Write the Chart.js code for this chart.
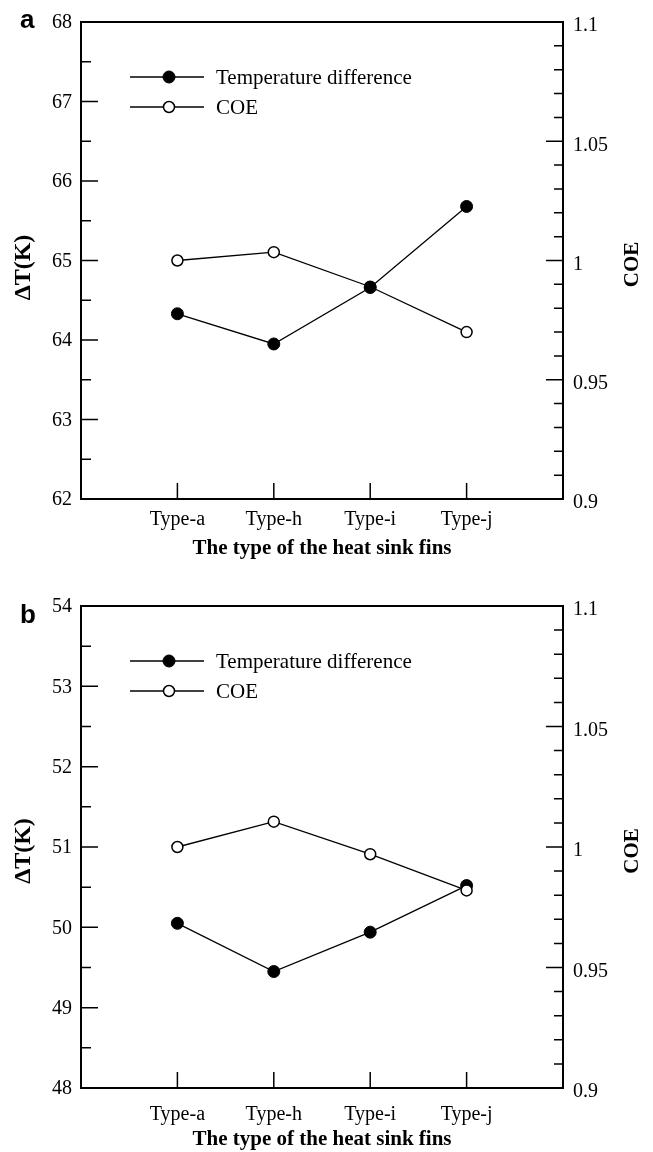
<!DOCTYPE html>
<html>
<head>
<meta charset="utf-8">
<script src="https://cdn.jsdelivr.net/npm/chart.js@4"></script>
<style>
  body { margin: 0; background: #fff; }
  canvas { display: block; }
</style>
</head>
<body>
<canvas id="chartA" width="653" height="576"></canvas>
<canvas id="chartB" width="653" height="576"></canvas>
<script>
const categories = ['Type-a', 'Type-h', 'Type-i', 'Type-j'];
const tempA = [64.33, 63.95, 64.66, 65.68];
const coeA = [1.0, 1.0035, 0.989, 0.97];
const tempB = [50.05, 49.45, 49.94, 50.52];
const coeB = [1.0, 1.0105, 0.997, 0.982];
const legendLabels = ['Temperature difference', 'COE'];

const serif = '"Liberation Serif", "Times New Roman", serif';

const points = vals => vals.map((v, i) => ({ x: i + 1, y: v }));

// frame, inward ticks, legend, y axis titles, panel letter
const decor = {
    id: 'decor',
    afterDraw(chart, args, opts) {
        const { ctx, chartArea: a, scales } = chart;
        ctx.save();
        ctx.strokeStyle = '#000';
        ctx.fillStyle = '#000';
        ctx.lineWidth = 2;
        ctx.strokeRect(a.left, a.top, a.right - a.left, a.bottom - a.top);

        ctx.lineWidth = 1.5;
        ctx.beginPath();
        scales.y.ticks.forEach((t, i) => {
            const py = scales.y.getPixelForTick(i);
            const len = t.label !== '' ? 17 : 10;
            ctx.moveTo(a.left, py);
            ctx.lineTo(a.left + len, py);
        });
        scales.y2.ticks.forEach((t, i) => {
            const py = scales.y2.getPixelForTick(i);
            const len = t.label !== '' ? 17 : 9;
            ctx.moveTo(a.right, py);
            ctx.lineTo(a.right - len, py);
        });
        scales.x.ticks.forEach((t, i) => {
            if (t.label === '') return;
            const px = scales.x.getPixelForTick(i);
            ctx.moveTo(px, a.bottom);
            ctx.lineTo(px, a.bottom - 16);
        });
        ctx.stroke();

        // legend
        chart.data.datasets.forEach((ds, i) => {
            const y = a.top + 55 + i * 30;
            ctx.lineWidth = 1.3;
            ctx.beginPath();
            ctx.moveTo(a.left + 49, y);
            ctx.lineTo(a.left + 123, y);
            ctx.stroke();
            ctx.beginPath();
            ctx.arc(a.left + 88, y, ds.pointRadius, 0, Math.PI * 2);
            ctx.fillStyle = ds.pointBackgroundColor;
            ctx.fill();
            ctx.lineWidth = ds.pointBorderWidth;
            ctx.stroke();
            ctx.fillStyle = '#000';
            ctx.font = '21px ' + serif;
            ctx.textAlign = 'left';
            ctx.textBaseline = 'middle';
            ctx.fillText(ds.label, a.left + 135, y + 1);
        });

        // y axis titles, both read bottom to top
        const midY = (a.top + a.bottom) / 2;
        [['ΔT(K)', 24, 24, opts.titleShift], ['COE', a.right + 70, 21, 4]].forEach(([txt, x, size, dy]) => {
            ctx.save();
            ctx.translate(x, midY + dy);
            ctx.rotate(-Math.PI / 2);
            ctx.font = 'bold ' + size + 'px ' + serif;
            ctx.textAlign = 'center';
            ctx.textBaseline = 'middle';
            ctx.fillText(txt, 0, 0);
            ctx.restore();
        });

        // panel letter
        ctx.font = 'bold 26px "Liberation Sans", Arial, sans-serif';
        ctx.textAlign = 'left';
        ctx.textBaseline = 'alphabetic';
        ctx.fillText(opts.letter, 20, opts.letterY);
        ctx.restore();
    }
};

function makeChart(id, temp, coe, yMin, yMax, lay) {
    const tickFont = { family: serif, size: 20 };
    const noGrid = { display: false, drawTicks: false };
    new Chart(document.getElementById(id), {
        type: 'line',
        data: {
            datasets: [{
                label: legendLabels[0],
                data: points(temp),
                yAxisID: 'y',
                borderColor: '#000',
                borderWidth: 1.3,
                pointRadius: 6,
                pointBackgroundColor: '#000',
                pointBorderColor: '#000',
                pointBorderWidth: 1,
                order: lay.tempOrder
            }, {
                label: legendLabels[1],
                data: points(coe),
                yAxisID: 'y2',
                borderColor: '#000',
                borderWidth: 1.3,
                pointRadius: 5.5,
                pointBackgroundColor: '#fff',
                pointBorderColor: '#000',
                pointBorderWidth: 1.5,
                order: lay.coeOrder
            }]
        },
        options: {
            responsive: false,
            animation: false,
            events: [],
            layout: { padding: { top: lay.top, left: 0, right: 0, bottom: 0 } },
            plugins: {
                legend: { display: false },
                tooltip: { enabled: false },
                decor: { letter: lay.letter, letterY: lay.letterY, titleShift: lay.titleShift }
            },
            scales: {
                x: {
                    type: 'linear',
                    min: 0,
                    max: 5,
                    afterFit: s => { s.height = lay.xHeight; },
                    grid: noGrid,
                    border: { display: false },
                    ticks: {
                        stepSize: 1,
                        autoSkip: false,
                        maxRotation: 0,
                        padding: lay.xPad,
                        color: '#000',
                        font: tickFont,
                        callback: v => categories[v - 1] || ''
                    },
                    title: {
                        display: true,
                        text: 'The type of the heat sink fins',
                        color: '#000',
                        font: { family: serif, size: 21, weight: 'bold' },
                        padding: { top: 0, bottom: lay.titlePad }
                    }
                },
                y: {
                    position: 'left',
                    min: yMin,
                    max: yMax,
                    afterFit: s => { s.width = 81; },
                    grid: noGrid,
                    border: { display: false },
                    ticks: {
                        stepSize: 0.5,
                        autoSkip: false,
                        padding: 9,
                        labelOffset: 1,
                        color: '#000',
                        font: tickFont,
                        callback: v => Number.isInteger(v) ? String(v) : ''
                    }
                },
                y2: {
                    position: 'right',
                    min: 0.9,
                    max: 1.1,
                    afterFit: s => { s.width = 90; },
                    grid: noGrid,
                    border: { display: false },
                    ticks: {
                        stepSize: 0.01,
                        autoSkip: false,
                        padding: 10,
                        labelOffset: 4,
                        color: '#000',
                        font: tickFont,
                        callback: v => {
                            const k = Math.round(v * 100);
                            return k % 5 === 0 ? String(k / 100) : '';
                        }
                    }
                }
            }
        },
        plugins: [decor]
    });
}

makeChart('chartA', tempA, coeA, 62, 68, {
    top: 16, xHeight: 77, xPad: 9, titlePad: 15, titleShift: 7,
    tempOrder: 0, coeOrder: 1, letter: 'a', letterY: 28
});
makeChart('chartB', tempB, coeB, 48, 54, {
    top: 30, xHeight: 64, xPad: 15, titlePad: 0, titleShift: 4,
    tempOrder: 1, coeOrder: 0, letter: 'b', letterY: 47
});
</script>
</body>
</html>
